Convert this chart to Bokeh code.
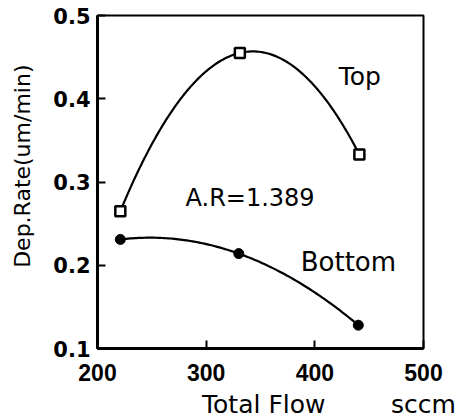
import numpy as np
from bokeh.plotting import figure
from bokeh.models import Label, FixedTicker, LinearAxis
from bokeh.embed import file_html
from bokeh.resources import INLINE

# data
flow_top = [221, 331, 441]
rate_top = [0.265, 0.455, 0.333]
flow_bottom = [221, 330, 440]
rate_bottom = [0.231, 0.214, 0.128]
x_ticks = [200, 300, 400, 500]
y_ticks = [0.1, 0.2, 0.3, 0.4, 0.5]
x_title = "Total Flow"
x_unit = "sccm"
y_title = "Dep.Rate(um/min)"

p = figure(frame_width=326, frame_height=333, x_range=(200, 500), y_range=(0.1, 0.5),
           output_backend="svg", toolbar_location=None,
           min_border_left=97, min_border_top=15, min_border_right=44, min_border_bottom=40)
p.grid.visible = False
p.background_fill_color = "white"
p.border_fill_color = "white"
p.outline_line_color = "black"
p.outline_line_width = 2

# smooth curves through the measured points
for xs, ys in ((flow_top, rate_top), (flow_bottom, rate_bottom)):
    c = np.polyfit(xs, ys, 2)
    xx = np.linspace(xs[0], xs[-1], 120)
    p.line(xx, np.polyval(c, xx), line_color="black", line_width=2.2)

p.scatter(flow_top, rate_top, marker="square", size=10, fill_color="white",
          line_color="black", line_width=2.5)
p.scatter(flow_bottom, rate_bottom, marker="circle", size=10, fill_color="black",
          line_color="black")

for ax in (p.xaxis, p.yaxis):
    ax.axis_line_width = 3
    ax.axis_line_color = "black"
    ax.major_tick_in = 8
    ax.major_tick_out = 0
    ax.minor_tick_line_color = None
    ax.major_tick_line_width = 2
    ax.major_tick_line_color = "black"
    ax.major_label_text_color = "black"

p.xaxis.ticker = FixedTicker(ticks=x_ticks)
p.yaxis.ticker = FixedTicker(ticks=y_ticks)
p.yaxis.major_label_overrides = {t: f"{t:.1f}" for t in y_ticks}

p.xaxis.major_label_text_font = "Liberation Sans"
p.xaxis.major_label_text_font_style = "bold"
p.xaxis.major_label_text_font_size = "23px"
p.xaxis.major_label_standoff = 15
p.yaxis.major_label_text_font = "DejaVu Sans"
p.yaxis.major_label_text_font_style = "bold"
p.yaxis.major_label_text_font_size = "21px"
p.yaxis.major_label_standoff = 7

# second bottom axis carrying the title and the unit on one row
xt = LinearAxis(ticker=FixedTicker(ticks=[353, 500]),
                major_label_overrides={353: x_title, 500: x_unit},
                axis_line_color=None, major_tick_line_color=None, minor_tick_line_color=None,
                major_label_standoff=0, major_label_text_font="DejaVu Sans",
                major_label_text_font_size="25px", major_label_text_color="black")
p.add_layout(xt, "below")

# second left axis carrying the rotated title
yt = LinearAxis(ticker=FixedTicker(ticks=[0.319]),
                major_label_overrides={0.319: y_title},
                major_label_orientation="vertical",
                axis_line_color=None, major_tick_line_color=None, minor_tick_line_color=None,
                major_label_standoff=9, major_label_text_font="DejaVu Sans",
                major_label_text_font_size="22px", major_label_text_color="black")
p.add_layout(yt, "left")

def lab(x, y, t, size):
    p.add_layout(Label(x=x, y=y, text=t, text_font="DejaVu Sans", text_font_size=size,
                       text_align="left", text_baseline="middle", text_color="black"))

lab(422, 0.4267, "Top", "25px")
lab(281, 0.2808, "A.R=1.389", "24px")
lab(387, 0.2039, "Bottom", "26px")

open("out.html", "w").write(file_html(p, INLINE))
